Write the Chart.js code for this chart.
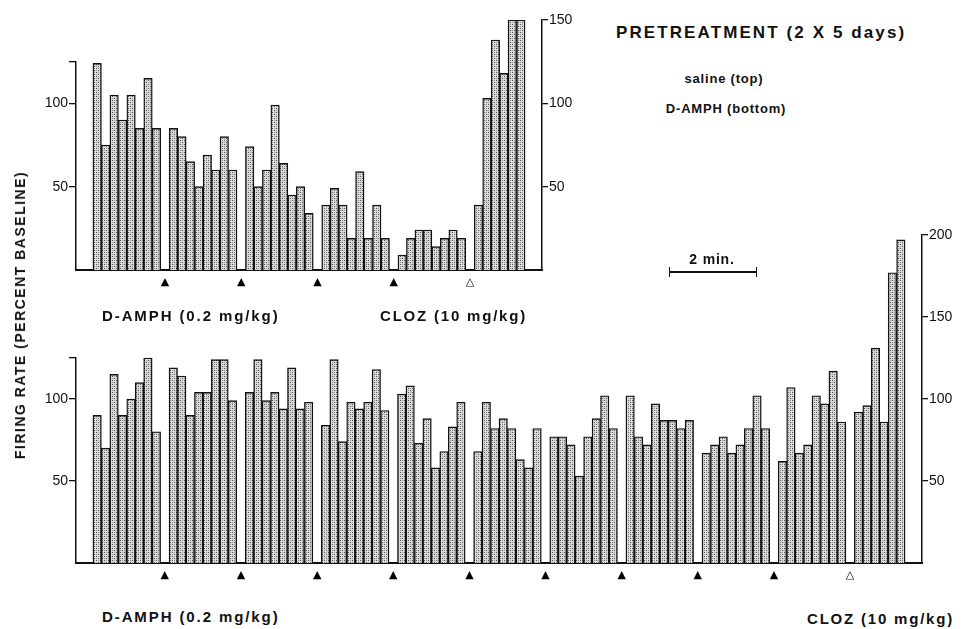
<!DOCTYPE html>
<html>
<head>
<meta charset="utf-8">
<script src="https://cdn.jsdelivr.net/npm/chart.js@4.4.1/dist/chart.umd.min.js"></script>
<style>
  body { margin: 0; background: #fff; width: 962px; height: 629px; position: relative; overflow: hidden;
         font-family: "Liberation Sans", Arial, sans-serif; color: #111; }
  canvas { position: absolute; left: 0; }
  #topChart { top: 0; }
  #botChart { top: 200px; }
  .lbl { position: absolute; font-weight: bold; white-space: nowrap; line-height: 1; }
  .c { transform: translate(-50%, -50%); }
  .l { transform: translateY(-50%); }
  #yTitle { left: 20px; top: 315px; font-size: 14px; letter-spacing: 1.5px;
            transform: translate(-50%, -50%) rotate(-90deg); }
  #scaleBar { position: absolute; left: 669px; top: 267px; width: 86px; height: 10px;
              border-left: 1.5px solid #111; border-right: 1.5px solid #111; }
  #scaleBar:after { content: ""; position: absolute; left: 0; right: 0; top: 4px; border-top: 2px solid #111; }
</style>
</head>
<body>
<canvas id="topChart" width="600" height="300"></canvas>
<canvas id="botChart" width="962" height="393"></canvas>

<div class="lbl l" style="left:616px;top:32px;font-size:17px;letter-spacing:2.1px">PRETREATMENT (2 X 5 days)</div>
<div class="lbl c" style="left:724px;top:78px;font-size:13px;letter-spacing:0.8px">saline (top)</div>
<div class="lbl c" style="left:726px;top:108px;font-size:13px;letter-spacing:0.8px">D-AMPH (bottom)</div>
<div class="lbl" id="yTitle">FIRING RATE (PERCENT BASELINE)</div>
<div class="lbl l" style="left:102px;top:315px;font-size:15px;letter-spacing:1.9px">D-AMPH (0.2 mg/kg)</div>
<div class="lbl l" style="left:380px;top:315px;font-size:15px;letter-spacing:1.8px">CLOZ (10 mg/kg)</div>
<div class="lbl l" style="left:102px;top:616px;font-size:15px;letter-spacing:1.9px">D-AMPH (0.2 mg/kg)</div>
<div class="lbl l" style="left:807px;top:618px;font-size:15px;letter-spacing:1.8px">CLOZ (10 mg/kg)</div>
<div class="lbl c" style="left:712px;top:259px;font-size:14px;letter-spacing:0.8px">2 min.</div>
<div id="scaleBar"></div>

<script>
// firing rate per bin (percent baseline), blocks of 8 bins between injections
const salineBlocks = [
  [124, 75, 105, 90, 105, 85, 115, 85],
  [85, 80, 65, 50, 69, 60, 80, 60],
  [74, 50, 60, 99, 64, 45, 50, 34],
  [39, 49, 39, 19, 59, 19, 39, 19],
  [9, 19, 24, 24, 14, 19, 24, 19],
  [39, 103, 138, 118, 150, 150]
];
const amphBlocks = [
  [90, 70, 115, 90, 100, 110, 125, 80],
  [119, 114, 90, 104, 104, 124, 124, 99],
  [104, 124, 99, 104, 94, 119, 94, 98],
  [84, 124, 74, 98, 94, 98, 118, 93],
  [103, 108, 73, 88, 58, 68, 83, 98],
  [68, 98, 82, 88, 82, 63, 58, 82],
  [77, 77, 72, 53, 77, 88, 102, 82],
  [102, 77, 72, 97, 87, 87, 82, 87],
  [67, 72, 77, 67, 72, 82, 102, 82],
  [62, 107, 67, 72, 102, 97, 117, 86],
  [92, 96, 131, 86, 177, 197]
];
// injection markers between blocks: filled = D-AMPH, open = CLOZ
const salineMarks = ['▲', '▲', '▲', '▲', '△'];
const amphMarks = ['▲', '▲', '▲', '▲', '▲', '▲', '▲', '▲', '▲', '△'];

const topLeftTicks = [50, 100, 125];
const topRightTicks = [50, 100, 150];
const botLeftTicks = [50, 100, 125];
const botRightTicks = [50, 100, 150, 200];

// lay blocks out on the category axis, one empty slot (with marker) between blocks
function buildSlots(blocks, marks) {
  const labels = ['', ''], values = [null, null];
  blocks.forEach((b, i) => {
    b.forEach(v => { labels.push(''); values.push(v); });
    if (i < marks.length) { labels.push(marks[i]); values.push(null); }
  });
  labels.push('', '');
  values.push(null, null);
  return { labels, values };
}

function stipple() {
  const c = document.createElement('canvas');
  c.width = 4; c.height = 4;
  const g = c.getContext('2d');
  g.fillStyle = '#d9d9d9'; g.fillRect(0, 0, 4, 4);
  g.fillStyle = '#555'; g.fillRect(0, 0, 1, 1); g.fillRect(2, 2, 1, 1);
  g.fillStyle = '#999'; g.fillRect(2, 0, 1, 1); g.fillRect(0, 2, 1, 1);
  return g.createPattern(c, 'repeat');
}

const tickFont = { family: 'Liberation Sans', size: 14 };
const hideZero = ctx => (ctx.tick && ctx.tick.value === 0) ? 'rgba(0,0,0,0)' : '#111';

function panel(id, blocks, marks, leftTicks, rightTicks, leftMax, rightMax, topPad, rightWidth) {
  const s = buildSlots(blocks, marks);
  return new Chart(document.getElementById(id), {
    type: 'bar',
    data: {
      labels: s.labels,
      datasets: [{
        data: s.values,
        yAxisID: 'yR',
        backgroundColor: stipple(),
        borderColor: '#111',
        borderWidth: 1.4,
        barPercentage: 1,
        categoryPercentage: 1
      }]
    },
    options: {
      responsive: false,
      animation: false,
      layout: { padding: { top: topPad, left: 0, right: 0, bottom: 0 } },
      plugins: { legend: { display: false }, tooltip: { enabled: false } },
      scales: {
        x: {
          grid: { drawOnChartArea: false, drawTicks: false },
          border: { color: '#111', width: 2 },
          ticks: { autoSkip: false, maxRotation: 0, padding: 6, color: '#000',
                   font: { family: 'DejaVu Sans', size: 11 } },
          afterFit: sc => { sc.height = 30; }
        },
        yL: {
          type: 'linear', position: 'left', stack: 'L', stackWeight: leftMax, weight: 0,
          min: 0, max: leftMax,
          afterBuildTicks: sc => { sc.ticks = leftTicks.map(v => ({ value: v })); },
          grid: { drawOnChartArea: false, tickLength: 7, color: hideZero, lineWidth: 1.3 },
          border: { color: '#111', width: 1.5 },
          ticks: { padding: 1, color: '#111', font: tickFont,
                   callback: v => (v % 50 === 0 ? v : '') },
          afterFit: sc => { sc.width = 76; }
        },
        yPad: {
          type: 'linear', position: 'left', stack: 'L', stackWeight: rightMax - leftMax, weight: 1,
          grid: { display: false }, border: { display: false }, ticks: { display: false }
        },
        yR: {
          type: 'linear', position: 'right', min: 0, max: rightMax,
          afterBuildTicks: sc => { sc.ticks = rightTicks.map(v => ({ value: v })); },
          grid: { drawOnChartArea: false, tickLength: 6, color: hideZero, lineWidth: 1.3 },
          border: { color: '#111', width: 1.5 },
          ticks: { padding: 1, color: '#111', font: tickFont },
          afterFit: sc => { sc.width = rightWidth; }
        }
      }
    }
  });
}

panel('topChart', salineBlocks, salineMarks, topLeftTicks, topRightTicks, 125, 150, 20, 58);
panel('botChart', amphBlocks, amphMarks, botLeftTicks, botRightTicks, 125, 200, 35, 40);
</script>
</body>
</html>
